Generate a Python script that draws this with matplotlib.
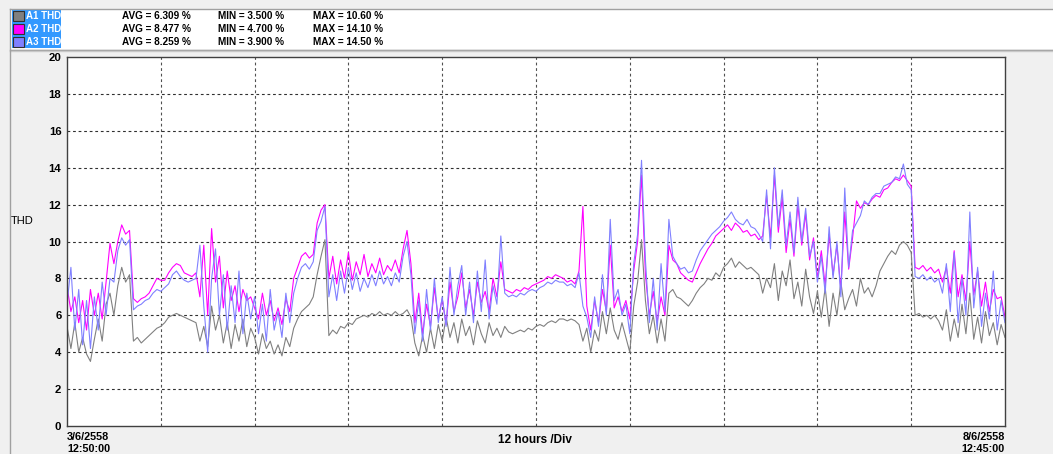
import matplotlib
matplotlib.use("Agg")
import matplotlib.pyplot as plt
from matplotlib.patches import Rectangle
from matplotlib.lines import Line2D

plt.rcParams["font.family"] = ["Liberation Sans", "DejaVu Sans"]

# ---------------- data (0.5 hour steps, 0..120 h) ----------------
hours = [i * 0.5 for i in range(241)]

a1_thd = [
    5.4, 4.2, 5.6, 4.0, 4.8, 3.9, 3.5, 4.7, 5.8, 4.6,
    6.6, 7.2, 6.0, 7.6, 8.6, 7.8, 8.2, 4.6, 4.8, 4.5,
    4.7, 4.9, 5.1, 5.3, 5.4, 5.6, 5.9, 6.0, 6.1, 6.0,
    5.9, 5.8, 5.7, 5.6, 4.6, 5.4, 4.3, 6.5, 5.2, 6.0,
    4.5, 5.6, 4.2, 5.5, 4.6, 5.8, 4.3, 5.3, 4.8, 3.9,
    5.0, 4.2, 4.6, 3.9, 4.4, 3.8, 4.8, 4.3, 5.3, 5.8,
    6.2, 6.4, 6.6, 7.0, 8.2, 9.2, 10.1, 4.9, 5.2, 5.0,
    5.4, 5.3, 5.6, 5.5, 5.8, 5.9, 6.0, 5.9, 6.1, 6.0,
    6.2, 6.0, 6.1, 6.0, 6.2, 6.0, 6.1, 6.3, 5.9, 4.5,
    3.8, 4.9, 4.0, 5.3, 4.2, 5.5, 4.6, 5.9, 4.8, 5.6,
    4.5, 5.8, 4.9, 5.4, 4.4, 5.7, 5.0, 4.5, 5.6, 4.9,
    5.3, 4.8, 5.4, 5.1, 5.0, 5.1, 5.2, 5.1, 5.3, 5.2,
    5.4, 5.5, 5.4, 5.6, 5.7, 5.6, 5.8, 5.8, 5.7, 5.8,
    5.7, 5.5, 4.6, 5.3, 4.0, 5.2, 4.6, 6.2, 5.0, 6.4,
    5.2, 4.7, 5.6, 4.8, 4.0, 6.5, 7.8, 10.1, 6.8, 5.0,
    6.0, 4.5, 5.8, 4.6, 7.2, 7.4, 7.0, 6.9, 6.7, 6.5,
    6.8, 7.2, 7.5, 7.7, 8.0, 7.9, 8.3, 8.1, 8.6, 8.8,
    9.1, 8.6, 8.9, 8.7, 8.5, 8.6, 8.4, 8.2, 7.2, 8.0,
    7.5, 8.8, 6.8, 8.4, 7.6, 9.0, 6.9, 7.8, 6.5, 8.5,
    7.0, 6.1, 7.3, 5.9, 7.5, 5.4, 7.2, 6.0, 7.8, 6.3,
    6.9, 7.4, 6.5, 8.0, 7.2, 7.5, 7.0, 7.6, 8.4, 8.8,
    9.2, 9.5, 9.3, 9.8, 10.0, 9.8, 9.4, 6.0, 6.1, 5.9,
    6.0, 5.8, 6.0, 5.7, 5.2, 6.3, 4.6, 5.8, 4.8, 6.6,
    5.0, 7.2, 4.7, 5.9, 4.5, 6.2, 4.9, 5.6, 4.4, 5.5,
    4.8,
]

a2_thd = [
    7.6, 6.2, 7.0, 5.6, 6.8, 5.2, 7.4, 6.0, 7.2, 5.8,
    7.8, 9.9, 8.8, 10.0, 10.9, 10.4, 10.6, 6.9, 6.7, 6.9,
    7.0, 7.2, 7.6, 8.0, 7.9, 7.9, 8.3, 8.6, 8.8, 8.7,
    8.3, 8.2, 8.1, 8.3, 7.0, 9.8, 6.0, 10.7, 7.8, 9.2,
    6.4, 8.4, 6.8, 7.6, 6.2, 7.4, 6.8, 7.0, 6.4, 5.8,
    7.2, 6.0, 6.8, 5.7, 6.4, 5.5, 6.9, 6.2, 8.0, 8.6,
    9.2, 9.4, 9.1, 9.3, 11.0, 11.7, 12.0, 8.0, 9.2, 7.7,
    9.0, 8.0, 9.4, 7.9, 8.9, 8.2, 9.3, 8.1, 8.8, 8.3,
    9.1, 8.2, 8.7, 8.4, 9.0, 8.3, 9.6, 10.6, 8.8, 5.6,
    7.2, 5.0, 6.6, 5.4, 7.5, 5.8, 6.9, 5.5, 7.8, 6.2,
    7.0, 8.3, 6.4, 7.4, 6.0, 7.8, 6.7, 7.3, 6.2, 8.0,
    7.0, 8.9, 7.4, 7.3, 7.2, 7.4, 7.3, 7.5, 7.4, 7.6,
    7.7, 7.8, 7.9, 8.1, 8.0, 8.2, 8.1, 8.0, 7.8, 7.9,
    7.7, 8.4, 11.9, 6.5, 5.2, 6.8, 5.6, 7.4, 6.2, 9.8,
    6.4, 7.0, 6.2, 6.8, 5.8, 8.4, 10.0, 13.6, 8.2, 6.0,
    7.3, 5.6, 7.0, 6.0, 9.8, 9.0, 8.8, 8.3, 8.1, 7.9,
    7.8, 8.3, 8.8, 9.2, 9.6, 9.9, 10.3, 10.5, 10.7, 10.9,
    10.6, 11.0, 10.8, 10.5, 10.6, 10.3, 10.4, 10.1, 10.3, 12.5,
    10.2, 13.6, 10.5, 12.4, 9.4, 11.2, 9.2, 12.0, 9.8, 11.5,
    9.0, 10.2, 8.0, 9.5, 7.6, 10.4, 8.2, 9.8, 7.4, 11.6,
    8.5, 10.2, 12.2, 11.8, 12.1, 12.0, 12.3, 12.5, 12.4, 12.8,
    12.9, 13.2, 13.4, 13.3, 13.6, 13.3, 13.0, 8.6, 8.5, 8.7,
    8.4, 8.6, 8.3, 8.5, 7.8, 8.6, 7.2, 9.5, 7.0, 8.2,
    6.8, 10.0, 7.1, 8.4, 6.5, 7.8, 6.2, 7.4, 6.9, 7.0,
    5.9,
]

a3_thd = [
    6.6, 8.6, 5.2, 7.4, 4.4, 6.8, 4.2, 7.0, 5.2, 7.8,
    6.0, 8.0, 7.8, 9.5, 10.2, 9.8, 10.1, 6.3, 6.5, 6.6,
    6.8, 6.9, 7.2, 7.4, 7.3, 7.5, 7.7, 8.2, 8.4, 8.1,
    7.9, 7.8, 7.9, 8.0, 9.8, 6.5, 4.0, 8.0, 9.6, 6.0,
    8.2, 5.2, 7.6, 5.6, 8.4, 5.0, 7.2, 5.8, 7.0, 5.0,
    6.6, 4.6, 7.4, 5.2, 6.2, 4.8, 7.2, 5.6, 7.2, 8.0,
    8.6, 8.8, 8.5, 8.9, 10.6, 11.1, 11.9, 7.0, 8.2, 6.8,
    8.4, 7.2, 8.6, 7.4, 8.3, 7.3, 8.0, 7.5, 8.2, 7.6,
    8.4, 7.7, 8.1, 7.6, 8.3, 7.8, 9.2, 10.0, 8.2, 5.0,
    6.8, 4.6, 7.4, 5.2, 8.0, 5.6, 7.0, 5.4, 8.6, 6.0,
    7.6, 8.7, 6.0, 7.8, 5.6, 8.4, 6.2, 9.0, 5.8, 7.6,
    6.6, 10.3, 7.2, 7.0, 7.1, 7.0, 7.2, 7.1, 7.3, 7.4,
    7.3, 7.5, 7.6, 7.8, 7.7, 7.9, 7.8, 7.8, 7.6, 7.7,
    7.5, 8.3, 6.5, 5.9, 4.8, 7.0, 5.4, 8.2, 6.0, 11.2,
    6.8, 7.4, 6.0, 6.6, 5.0, 8.8, 10.4, 14.4, 9.0, 5.6,
    8.0, 5.2, 8.8, 6.2, 11.2, 9.2, 8.8, 8.5, 8.6, 8.3,
    8.4, 9.0, 9.5, 9.8, 10.1, 10.4, 10.6, 10.8, 11.1, 11.3,
    11.6, 11.2, 11.0, 10.9, 11.2, 10.8, 10.7, 10.4, 10.0, 12.8,
    9.6, 14.0, 10.8, 12.8, 9.8, 11.6, 9.4, 12.4, 10.0, 11.8,
    9.2, 10.0, 7.8, 9.2, 7.2, 10.8, 8.0, 10.0, 7.0, 12.9,
    8.6, 10.6, 11.0, 11.4, 12.2, 12.0, 12.4, 12.6, 12.6, 13.0,
    13.1, 13.2, 13.5, 13.4, 14.2, 13.1, 12.8, 8.1, 8.0, 8.2,
    7.9, 8.1, 7.8, 8.0, 7.2, 8.8, 6.2, 9.4, 5.6, 8.0,
    6.0, 11.6, 6.4, 8.6, 5.4, 7.2, 5.8, 8.4, 5.2, 6.8,
    5.6,
]

series_names = ["A1 THD", "A2 THD", "A3 THD"]
series_colors = ["#808080", "#ff00ff", "#8080ff"]
avg_labels = ["AVG = 6.309 %", "AVG = 8.477 %", "AVG = 8.259 %"]
min_labels = ["MIN = 3.500 %", "MIN = 4.700 %", "MIN = 3.900 %"]
max_labels = ["MAX = 10.60 %", "MAX = 14.10 %", "MAX = 14.50 %"]
y_ticks = list(range(0, 21, 2))
x_grid = list(range(12, 120, 12))
start_label = "3/6/2558\n12:50:00"
end_label = "8/6/2558\n12:45:00"
div_label = "12 hours /Div"
y_label = "THD"

# ---------------- figure ----------------
W, H = 1053, 454
fig = plt.figure(figsize=(W / 100, H / 100), dpi=100)
fig.patch.set_facecolor("#f0f0f0")

def fx(px):
    return px / W

def fy(py):
    return 1 - py / H

# legend panel (white)
fig.add_artist(Rectangle((fx(10), fy(49)), fx(1043), 40 / H, transform=fig.transFigure,
                         facecolor="white", edgecolor="none", zorder=0))
fig.add_artist(Line2D([fx(10), 1], [fy(8.5), fy(8.5)], transform=fig.transFigure,
                      color="#a0a0a0", lw=1.0))
fig.add_artist(Line2D([fx(10), 1], [fy(49.5), fy(49.5)], transform=fig.transFigure,
                      color="#a0a0a0", lw=1.0))
fig.add_artist(Line2D([fx(10), 1], [fy(51), fy(51)], transform=fig.transFigure,
                      color="#c8c8c8", lw=1.0))
fig.add_artist(Line2D([fx(9.5), fx(9.5)], [fy(8.5), 0], transform=fig.transFigure,
                      color="#a0a0a0", lw=1.0))

# blue highlight for legend names
fig.add_artist(Rectangle((fx(11.5), fy(47.5)), 49 / W, 38 / H, transform=fig.transFigure,
                         facecolor="#3399ff", edgecolor="none"))
row_y = [16, 29, 42]
for name, col, avg, mn, mx, ry in zip(series_names, series_colors, avg_labels,
                                       min_labels, max_labels, row_y):
    fig.add_artist(Rectangle((fx(13), fy(ry + 5)), 11 / W, 10 / H, transform=fig.transFigure,
                             facecolor=col, edgecolor="#303030", lw=0.8))
    fig.text(fx(26.5), fy(ry), name, color="white", fontsize=7.0, fontweight="bold",
             va="center", ha="left")
    fig.text(fx(122), fy(ry), avg, color="black", fontsize=7.2, fontweight="bold",
             va="center", ha="left")
    fig.text(fx(218), fy(ry), mn, color="black", fontsize=7.2, fontweight="bold",
             va="center", ha="left")
    fig.text(fx(313), fy(ry), mx, color="black", fontsize=7.2, fontweight="bold",
             va="center", ha="left")

# plot axes
ax = fig.add_axes([fx(67), fy(426), (1005 - 67) / W, (426 - 57) / H])
ax.set_facecolor("white")
for s in ax.spines.values():
    s.set_color("#404040")
    s.set_linewidth(1.0)

for yv in y_ticks[1:-1]:
    ax.axhline(yv, color="#303030", lw=0.8, ls=(0, (2.5, 2.5)), zorder=1)
for xv in x_grid:
    ax.axvline(xv, color="#505050", lw=0.8, ls=(0, (2.5, 2.5)), zorder=1)

for data, col in zip([a1_thd, a2_thd, a3_thd], series_colors):
    ax.plot(hours, data, color=col, lw=0.8, zorder=2)

ax.set_xlim(0, 120)
ax.set_ylim(0, 20)
ax.set_yticks(y_ticks)
ax.set_yticklabels([str(v) for v in y_ticks], fontsize=8.2, fontweight="bold")
ax.set_xticks([])
ax.tick_params(axis="y", length=0, pad=4)

fig.text(fx(11), fy(221), y_label, fontsize=8, ha="left", va="center")
fig.text(fx(67), fy(443), start_label, fontsize=7.8, fontweight="bold", ha="left",
         va="center", linespacing=1.2)
fig.text(fx(1005), fy(443), end_label, fontsize=7.8, fontweight="bold", ha="right",
         va="center", linespacing=1.2)
fig.text(fx(535), fy(440), div_label, fontsize=8.5, fontweight="bold", ha="center",
         va="center")

fig.savefig("out.png", dpi=100, facecolor=fig.get_facecolor())
